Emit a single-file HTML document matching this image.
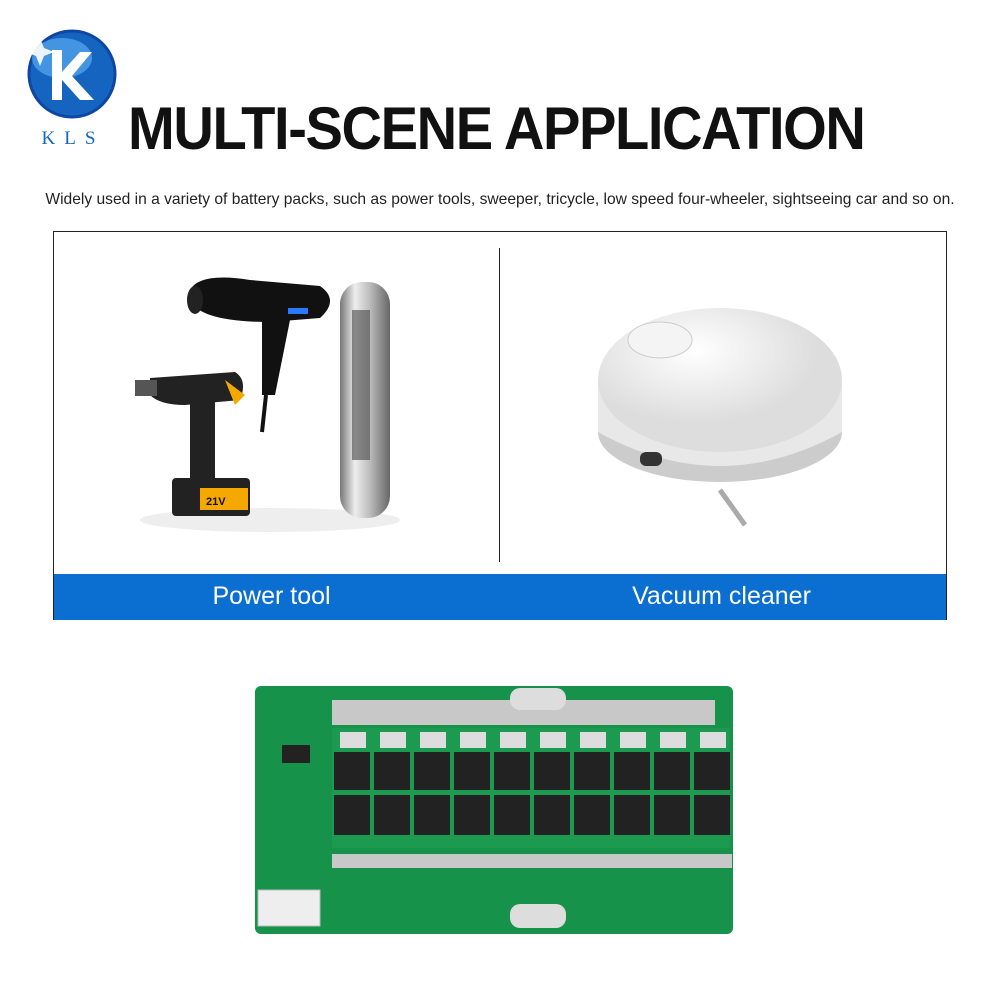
<!DOCTYPE html>
<html><head><meta charset="utf-8"><style>
html,body{margin:0;padding:0;background:#fff;width:1000px;height:1000px;overflow:hidden;font-family:"Liberation Sans",sans-serif;position:relative}
.abs{position:absolute}
</style></head><body>
<svg class="abs" style="left:0;top:0" width="1000" height="1000">
  <circle cx="72" cy="74" r="43" fill="#1565c0"/>
  <circle cx="72" cy="74" r="43" fill="none" stroke="#0d47a1" stroke-width="3"/>
  <ellipse cx="62" cy="58" rx="30" ry="20" fill="#64b5f6" opacity="0.6"/>
  <path d="M52 50 L52 100 L62 100 L62 80 L80 100 L94 100 L72 76 L92 52 L80 52 L62 72 L62 50 Z" fill="#fff"/>
  <path d="M40 38 l4 10 l10 4 l-10 4 l-4 10 l-4 -10 l-10 -4 l10 -4z" fill="#fff" opacity="0.9"/>
  <rect x="53.5" y="231.5" width="893" height="388" fill="#fff" stroke="#222" stroke-width="1"/>
  <line x1="499.5" y1="248" x2="499.5" y2="562" stroke="#222" stroke-width="1"/>
  <rect x="54" y="574" width="892" height="46" fill="#0a6fd0"/>
  <ellipse cx="270" cy="520" rx="130" ry="12" fill="#eee"/>
  <defs>
    <linearGradient id="sil" x1="0" x2="1"><stop offset="0" stop-color="#777"/><stop offset="0.3" stop-color="#eee"/><stop offset="0.6" stop-color="#bbb"/><stop offset="1" stop-color="#666"/></linearGradient>
    <radialGradient id="rob" cx="0.4" cy="0.3"><stop offset="0" stop-color="#fff"/><stop offset="1" stop-color="#ddd"/></radialGradient>
  </defs>
  <rect x="340" y="282" width="50" height="236" rx="22" fill="url(#sil)"/>
  <rect x="352" y="310" width="18" height="150" fill="#444" opacity="0.6"/>
  <path d="M190 290 Q200 272 250 280 L320 286 Q340 300 320 318 L270 322 Q200 322 190 300Z" fill="#111"/>
  <ellipse cx="195" cy="300" rx="8" ry="14" fill="#222"/>
  <path d="M262 320 L290 320 L275 395 L262 395Z" fill="#111"/>
  <path d="M266 395 L262 432" stroke="#111" stroke-width="4"/>
  <rect x="288" y="308" width="20" height="6" fill="#2979ff"/>
  <path d="M150 378 L235 372 Q248 380 240 400 L185 405 Q160 405 150 395Z" fill="#222"/>
  <rect x="135" y="380" width="22" height="16" fill="#555"/>
  <path d="M190 400 L215 400 L215 480 L190 480Z" fill="#222"/>
  <path d="M225 380 L245 395 L235 405 Z" fill="#f5a800"/>
  <rect x="172" y="478" width="78" height="38" rx="4" fill="#222"/>
  <rect x="200" y="488" width="48" height="22" fill="#f5a800"/>
  <text x="206" y="505" font-size="11" font-weight="bold" fill="#111">21V</text>
  <ellipse cx="720" cy="432" rx="122" ry="50" fill="#ccc"/>
  <path d="M598 380 L598 432 Q720 500 842 432 L842 380Z" fill="#e8e8e8"/>
  <ellipse cx="720" cy="380" rx="122" ry="72" fill="url(#rob)"/>
  <ellipse cx="660" cy="340" rx="32" ry="18" fill="#f4f4f4" stroke="#ccc"/>
  <rect x="640" y="452" width="22" height="14" rx="6" fill="#333"/>
  <path d="M720 490 L745 525" stroke="#aaa" stroke-width="5"/>
  <rect x="255" y="686" width="478" height="248" rx="6" fill="#17924a"/>
  <rect x="332" y="700" width="383" height="25" fill="#c8c8c8"/>
  <rect x="332" y="854" width="400" height="14" fill="#c8c8c8"/>
  <rect x="510" y="688" width="56" height="22" rx="10" fill="#ddd"/>
  <rect x="510" y="904" width="56" height="24" rx="10" fill="#ddd"/>
  <rect x="332" y="728" width="398" height="120" fill="#1c9a50"/>
  <g fill="#222">
    <rect x="334" y="752" width="36" height="38"/><rect x="374" y="752" width="36" height="38"/><rect x="414" y="752" width="36" height="38"/><rect x="454" y="752" width="36" height="38"/><rect x="494" y="752" width="36" height="38"/><rect x="534" y="752" width="36" height="38"/><rect x="574" y="752" width="36" height="38"/><rect x="614" y="752" width="36" height="38"/><rect x="654" y="752" width="36" height="38"/><rect x="694" y="752" width="36" height="38"/>
    <rect x="334" y="795" width="36" height="40"/><rect x="374" y="795" width="36" height="40"/><rect x="414" y="795" width="36" height="40"/><rect x="454" y="795" width="36" height="40"/><rect x="494" y="795" width="36" height="40"/><rect x="534" y="795" width="36" height="40"/><rect x="574" y="795" width="36" height="40"/><rect x="614" y="795" width="36" height="40"/><rect x="654" y="795" width="36" height="40"/><rect x="694" y="795" width="36" height="40"/>
    <rect x="282" y="745" width="28" height="18"/>
  </g>
  <g fill="#ddd">
    <rect x="340" y="732" width="26" height="16"/><rect x="380" y="732" width="26" height="16"/><rect x="420" y="732" width="26" height="16"/><rect x="460" y="732" width="26" height="16"/><rect x="500" y="732" width="26" height="16"/><rect x="540" y="732" width="26" height="16"/><rect x="580" y="732" width="26" height="16"/><rect x="620" y="732" width="26" height="16"/><rect x="660" y="732" width="26" height="16"/><rect x="700" y="732" width="26" height="16"/>
  </g>
  <rect x="258" y="890" width="62" height="36" fill="#eee" stroke="#bbb"/>
</svg>
<div class="abs" style="left:33px;top:128px;width:80px;text-align:center;font-family:'Liberation Serif',serif;font-size:19px;color:#1565c0;letter-spacing:9px">KLS</div>
<div class="abs" style="left:128px;top:94px;font-size:60px;font-weight:bold;color:#111;letter-spacing:-1.5px;white-space:nowrap;transform:scaleX(0.935);transform-origin:0 0">MULTI-SCENE APPLICATION</div>
<div class="abs" style="left:0;top:191px;width:1000px;text-align:center;font-size:15.6px;color:#222;white-space:nowrap">Widely used in a variety of battery packs, such as power tools, sweeper, tricycle, low speed four-wheeler, sightseeing car and so on.</div>
<div class="abs" style="left:54px;top:582px;width:435px;text-align:center;font-size:25px;color:#fff">Power tool</div>
<div class="abs" style="left:500px;top:582px;width:443px;text-align:center;font-size:25px;color:#fff">Vacuum cleaner</div>
</body></html>
